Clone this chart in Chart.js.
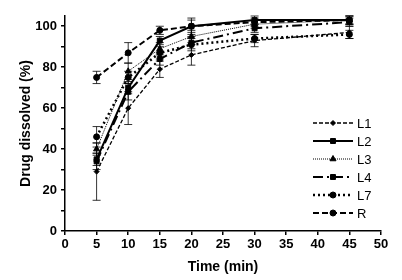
<!DOCTYPE html>
<html>
<head>
<meta charset="utf-8">
<script src="https://cdn.jsdelivr.net/npm/chart.js@4"></script>
<style>
  html, body { margin: 0; padding: 0; background: #fff; }
  #wrap { width: 402px; height: 280px; }
</style>
</head>
<body>
<div id="wrap"><canvas id="chart" width="402" height="280"></canvas></div>
<script>
// data
const times = [5, 10, 15, 20, 30, 45];
const seriesNames = ['L1', 'L2', 'L3', 'L4', 'L7', 'R'];
const L1 = [29, 60, 79, 86, 93, 97];
const L2 = [35, 70, 93, 100, 103, 103];
const L3 = [40, 78, 89, 95, 101, 103];
const L4 = [34, 68, 84, 92, 99, 102];
const L7 = [46, 75, 87, 91, 94, 96];
const R = [75, 87, 98, 100, 102, 103];
// error bar half-widths (SD)
const L1err = [14, 8, 4, 5, 3, 3];
const L2err = [3, 3, 2, 3, 2, 2];
const L3err = [3, 4, 3, 3, 2, 2];
const L4err = [4, 4, 3, 3, 2, 2];
const L7err = [5, 3, 3, 3, 2, 2];
const Rerr = [3, 5, 2, 4, 2, 2];
const yTicks = [0, 20, 40, 60, 80, 100];

const FONT = "'Liberation Sans', Arial, sans-serif";

// line styles for each series
const styles = [
    { dash: [4, 2], width: 1.3, point: 'rectRot', radius: 2.5 },
    { dash: [], width: 2, point: 'rect', radius: 3.5 },
    { dash: [1, 1], width: 1, point: 'triangle', radius: 3.5 },
    { dash: [10, 4, 2, 4], width: 2, point: 'rect', radius: 3.5 },
    { dash: [2, 3], width: 2.5, point: 'circle', radius: 3 },
    { dash: [6, 3], width: 2, point: 'circle', radius: 3 }
];
const values = [L1, L2, L3, L4, L7, R];
const errors = [L1err, L2err, L3err, L4err, L7err, Rerr];

const datasets = seriesNames.map((name, i) => ({
    label: name,
    data: times.map((t, j) => ({ x: t, y: values[i][j] })),
    err: errors[i],
    borderColor: '#000',
    backgroundColor: '#000',
    borderWidth: styles[i].width,
    borderDash: styles[i].dash,
    pointStyle: styles[i].point,
    pointRadius: styles[i].radius,
    pointBorderWidth: 1,
    tension: 0
}));

// error bars
const errorBars = {
    id: 'errorBars',
    afterDatasetsDraw(chart) {
        const ctx = chart.ctx;
        const yScale = chart.scales.y;
        ctx.save();
        ctx.strokeStyle = '#000';
        ctx.lineWidth = 0.8;
        ctx.setLineDash([]);
        chart.data.datasets.forEach((ds, i) => {
            const meta = chart.getDatasetMeta(i);
            meta.data.forEach((pt, j) => {
                const v = ds.data[j].y, e = ds.err[j];
                const top = yScale.getPixelForValue(v + e);
                const bot = yScale.getPixelForValue(v - e);
                ctx.beginPath();
                ctx.moveTo(pt.x, top); ctx.lineTo(pt.x, bot);
                ctx.moveTo(pt.x - 4, top); ctx.lineTo(pt.x + 4, top);
                ctx.moveTo(pt.x - 4, bot); ctx.lineTo(pt.x + 4, bot);
                ctx.stroke();
            });
        });
        ctx.restore();
    }
};

// legend with line samples
const lineLegend = {
    id: 'lineLegend',
    afterDraw(chart) {
        const ctx = chart.ctx;
        ctx.save();
        chart.data.datasets.forEach((ds, i) => {
            const y = 123 + i * 18;
            ctx.strokeStyle = '#000';
            ctx.lineWidth = ds.borderWidth;
            ctx.setLineDash(ds.borderDash);
            ctx.beginPath();
            ctx.moveTo(313, y); ctx.lineTo(353, y);
            ctx.stroke();
            ctx.setLineDash([]);
            ctx.fillStyle = '#000';
            ctx.lineWidth = 1;
            Chart.helpers.drawPoint(ctx, { pointStyle: ds.pointStyle, radius: ds.pointRadius, borderWidth: 1 }, 333, y);
            ctx.font = '13px ' + FONT;
            ctx.textBaseline = 'middle';
            ctx.fillText(ds.label, 357, y + 1);
        });
        ctx.restore();
    }
};

new Chart(document.getElementById('chart'), {
    type: 'line',
    data: { datasets: datasets },
    plugins: [errorBars, lineLegend],
    options: {
        responsive: false,
        animation: false,
        layout: { padding: { top: 16, right: 21, left: 14, bottom: 0 } },
        plugins: { legend: { display: false }, tooltip: { enabled: false } },
        scales: {
            x: {
                type: 'linear',
                min: 0, max: 50,
                ticks: { stepSize: 5, color: '#000', font: { family: FONT, size: 13, weight: 'bold' }, padding: 2, maxRotation: 0 },
                grid: { drawOnChartArea: false, drawTicks: true, tickLength: 4, color: '#000', lineWidth: 1.5 },
                border: { color: '#000', width: 1.5 },
                title: { display: true, text: 'Time (min)', color: '#000', font: { family: FONT, size: 14, weight: 'bold' }, padding: { top: 2 } },
                afterFit(s) { s.height = 49; }
            },
            y: {
                min: 0, max: 105,
                afterBuildTicks(s) {
                    s.ticks = [];
                    for (let v = 0; v <= 100; v += 10) s.ticks.push({ value: v });
                },
                ticks: {
                    color: '#000', font: { family: FONT, size: 13, weight: 'bold' }, padding: 4,
                    callback: v => yTicks.includes(v) ? String(v) : ''
                },
                grid: { drawOnChartArea: false, drawTicks: true, tickLength: 4, color: '#000', lineWidth: 1.5 },
                border: { color: '#000', width: 1.5 },
                title: { display: true, text: 'Drug dissolved (%)', color: '#000', font: { family: FONT, size: 14, weight: 'bold' }, padding: { bottom: 6 } },
                afterFit(s) { s.width = 51; }
            }
        }
    }
});
</script>
</body>
</html>
